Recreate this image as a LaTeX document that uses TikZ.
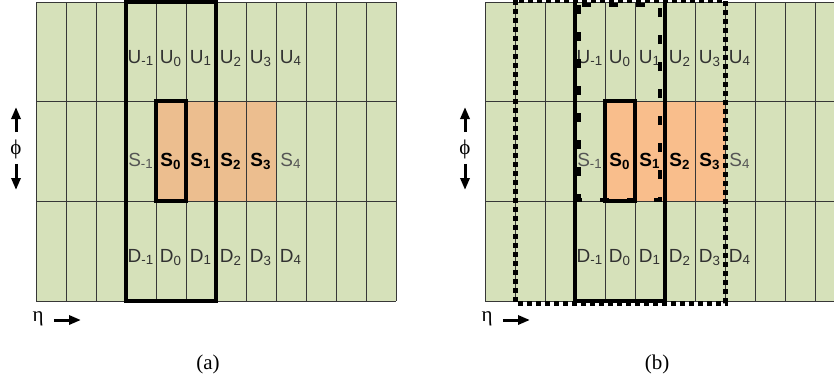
\documentclass[tikz,border=0pt]{standalone}
\usepackage{fontspec}
\setmainfont{Liberation Serif}
\newfontfamily\cellfont{Liberation Sans}
\usetikzlibrary{arrows.meta}

\definecolor{cellgreen}{RGB}{214,225,186}
\definecolor{seedorangeA}{RGB}{236,190,143}
\definecolor{seedorangeB}{RGB}{249,190,140}
\definecolor{gridgray}{RGB}{55,55,55}
\definecolor{labelgray}{RGB}{50,50,50}
\definecolor{sidegray}{RGB}{85,85,85}

\tikzset{
  gridline/.style={draw=gridgray, line width=0.5pt},
  cell/.style={font=\cellfont\fontsize{9.5}{11}\selectfont, text=labelgray, anchor=base, inner sep=0pt},
  seedcell/.style={cell, font=\cellfont\bfseries\fontsize{9.5}{11}\selectfont, text=black},
  sidecell/.style={cell, text=sidegray},
  frame/.style={draw=black, line width=2pt},
  dashframe/.style={draw=black, line width=2pt, dash pattern=on 4.5pt off 9pt},
  dotframe/.style={draw=black, line width=2.5pt, dash pattern=on 2.5pt off 2pt},
  axisarrow/.style={line width=1.5pt, -{Triangle[length=6pt,width=4.5pt]}},
  axislabel/.style={font=\fontsize{10.5}{12}\selectfont, inner sep=0pt},
  caption/.style={font=\fontsize{10.5}{12}\selectfont, inner sep=0pt},
}

% one grid of towers: #1 left edge, #2 seed colour, #3 name prefix
\newcommand{\towergrid}[3]{%
  \fill[cellgreen] (#1,2) rectangle ++(360,299);
  \fill[#2] (#1+120,101) rectangle ++(120,100);
  \foreach \k in {0,...,12}
    \draw[gridline] (#1+30*\k,2) -- ++(0,299);
  \foreach \row in {2,101,201,301}
    \draw[gridline] (#1,\row) -- ++(360,0);
  \foreach \i [count=\n] in {-1,...,4} {
    \node[cell] (#3u\n) at (#1+75+30*\n,63) {U\textsubscript{\i}};
    \node[cell] (#3d\n) at (#1+75+30*\n,262) {D\textsubscript{\i}};
  }
  \node[sidecell] (#3s1) at (#1+105,166) {S\textsubscript{-1}};
  \foreach \i [count=\n from 2] in {0,...,3}
    \node[seedcell] (#3s\n) at (#1+75+30*\n,166) {S\textsubscript{\i}};
  \node[sidecell] (#3s6) at (#1+255,166) {S\textsubscript{4}};
  % axes
  \node[axislabel] (#3phi) at (#1-20,149) {ϕ};
  \coordinate (#3phiup) at (#1-20,107);
  \coordinate (#3phidown) at (#1-20,190);
  \draw[axisarrow] ([yshift=3.5pt]#3phi.north) -- (#3phiup);
  \draw[axisarrow] ([yshift=-2.5pt]#3phi.south) -- (#3phidown);
  \node[axislabel] (#3eta) at (#1+2,319) {η};
  \coordinate (#3etaend) at (#1+45,320);
  \draw[axisarrow] ([xshift=5pt]#3eta.east |- #3etaend) -- (#3etaend);
}

\begin{document}
\begin{tikzpicture}[x=0.5pt, y=-0.5pt]
  \clip (0,0) rectangle (834,380);

  % (a)
  \towergrid{36}{seedorangeA}{a}
  \draw[frame] (126,2) rectangle (216,301);
  \draw[frame] (156,101) rectangle (186,201);
  \node[caption] (capa) at (208,364) {(a)};

  % (b)
  \towergrid{485}{seedorangeB}{b}
  \draw[frame] (575,-5) -- (575,301) -- (665,301) -- (665,-5);
  \draw[frame] (605,101) rectangle (635,201);
  \draw[dashframe] (579,5) rectangle (660,200);
  \draw[dotframe] (515,0) rectangle (725,303);
  \node[caption] (capb) at (657,364) {(b)};
\end{tikzpicture}
\end{document}
